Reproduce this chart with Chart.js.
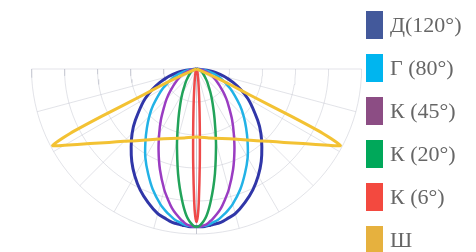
<!DOCTYPE html>
<html>
<head>
<meta charset="utf-8">
<script src="https://cdn.jsdelivr.net/npm/chart.js@4.4.1/dist/chart.umd.min.js"></script>
<style>
    html, body { margin: 0; padding: 0; background: #fff; }
    #wrap { position: relative; width: 476px; height: 252px; overflow: hidden; }
    #legend { position: absolute; left: 366px; top: 0; font-family: "Liberation Serif", "Times New Roman", serif; font-size: 22px; color: #666; }
    .item { position: absolute; left: 0; height: 28px; display: flex; align-items: center; white-space: nowrap; }
    .box { width: 17px; height: 28px; margin-right: 7px; flex: none; }
</style>
</head>
<body>
<div id="wrap">
    <canvas id="chart" width="476" height="252"></canvas>
    <div id="legend"></div>
</div>
<script>
// --- DATA (intensity by angle from the downward axis) ---
const labels = ['Д(120°)', 'Г (80°)', 'К (45°)', 'К (20°)', 'К (6°)', 'Ш'];
const legendColors = ['#43599b', '#00b5ef', '#8c4d84', '#00a85a', '#f3493f', '#e6b13e'];
const lineColors = ['#3036a8', '#22b2e6', '#9a3cc2', '#22a35a', '#ee4a4a', '#f3c233'];

const angles = [0, 0.5, 1, 2, 3, 4, 5, 6, 8, 10, 12, 15, 20, 25, 30, 35, 40, 45, 50, 60, 70, 80, 90];
const d120 = [239, 239, 239, 239, 239, 238, 238, 237, 236, 234, 231, 227, 215, 202, 187, 171, 154, 138, 121, 90, 59, 29, 0];
const g80  = [239, 239, 239, 238, 238, 237, 236, 234, 231, 226, 221, 212, 194, 174, 155, 135, 117, 101, 86, 59, 37, 18, 0];
const k45  = [239, 239, 239, 238, 237, 235, 232, 229, 222, 214, 204, 189, 162, 136, 113, 94, 77, 64, 52, 34, 21, 10, 0];
const k20  = [239, 239, 238, 234, 229, 222, 213, 203, 182, 161, 140, 114, 80, 58, 43, 32, 25, 19, 15, 10, 6, 3, 0];
const k6   = [232, 223, 201, 143, 97, 67, 48, 35, 21, 14, 10, 6, 4, 2, 2, 1, 1, 0.5, 0, 0, 0, 0, 0];

const wideAngles = [0, 10, 20, 30, 40, 45, 50, 55, 60, 62, 63, 63.5, 64, 65, 66, 67, 68, 70, 80, 90];
const wideValues = [103, 106, 112, 123, 142, 155, 173, 197, 231, 247, 215, 160, 90, 60, 35, 15, 6, 2, 0, 0];

// grid ticks
const rings = [50, 100, 150, 200, 250];
const spokes = [-90, -75, -60, -45, -30, -15, 0, 15, 30, 45, 60, 75, 90];

// --- helpers ---
const toXY = (deg, r) => {
    const t = deg * Math.PI / 180;
    return { x: r * Math.sin(t), y: -r * Math.cos(t) };
};

// mirror a half curve (0..90) to a full one (-90..90)
const polarCurve = (angs, vals) => {
    const pts = [];
    for (let i = angs.length - 1; i > 0; i--) pts.push(toXY(-angs[i], vals[i]));
    for (let i = 0; i < angs.length; i++) pts.push(toXY(angs[i], vals[i]));
    return pts;
};

const gridStyle = { borderColor: 'rgba(185,188,200,0.42)', borderWidth: 1, showLine: true, pointRadius: 0, tension: 0, order: 100 };
const gridSets = [];
const rMax = rings[rings.length - 1];
rings.forEach(r => {
    const pts = [];
    for (let a = -90; a <= 90; a += 3) pts.push(toXY(a, r));
    gridSets.push(Object.assign({ data: pts }, gridStyle));
});
spokes.forEach(a => {
    gridSets.push(Object.assign({ data: [toXY(a, 0), toXY(a, rMax)] }, gridStyle));
});

const series = [d120, g80, k45, k20, k6];
const curveSets = series.map((vals, i) => ({
    label: labels[i],
    data: polarCurve(angles, vals),
    borderColor: lineColors[i],
    borderWidth: i === 0 ? 3 : 2.5,
    showLine: true,
    pointRadius: 0,
    tension: 0.3,
    order: 10 - i
}));
curveSets.push({
    label: labels[5],
    data: polarCurve(wideAngles, wideValues),
    borderColor: lineColors[5],
    borderWidth: 3,
    showLine: true,
    pointRadius: 0,
    tension: 0.2,
    order: 1
});

// px per unit = 0.66, pole at (196.5, 69)
const k = 0.66;
new Chart(document.getElementById('chart'), {
    type: 'scatter',
    data: { datasets: gridSets.concat(curveSets) },
    options: {
        responsive: false,
        animation: false,
        layout: { padding: 0 },
        plugins: { legend: { display: false }, tooltip: { enabled: false } },
        scales: {
            x: { type: 'linear', display: false, min: -196.5 / k, max: (476 - 196.5) / k },
            y: { type: 'linear', display: false, min: -(252 - 69) / k, max: 69 / k }
        }
    }
});

// --- LEGEND ---
const legend = document.getElementById('legend');
labels.forEach((txt, i) => {
    const item = document.createElement('div');
    item.className = 'item';
    item.style.top = (11 + i * 43) + 'px';
    const box = document.createElement('span');
    box.className = 'box';
    box.style.background = legendColors[i];
    const label = document.createElement('span');
    label.textContent = txt;
    item.appendChild(box);
    item.appendChild(label);
    legend.appendChild(item);
});
</script>
</body>
</html>
